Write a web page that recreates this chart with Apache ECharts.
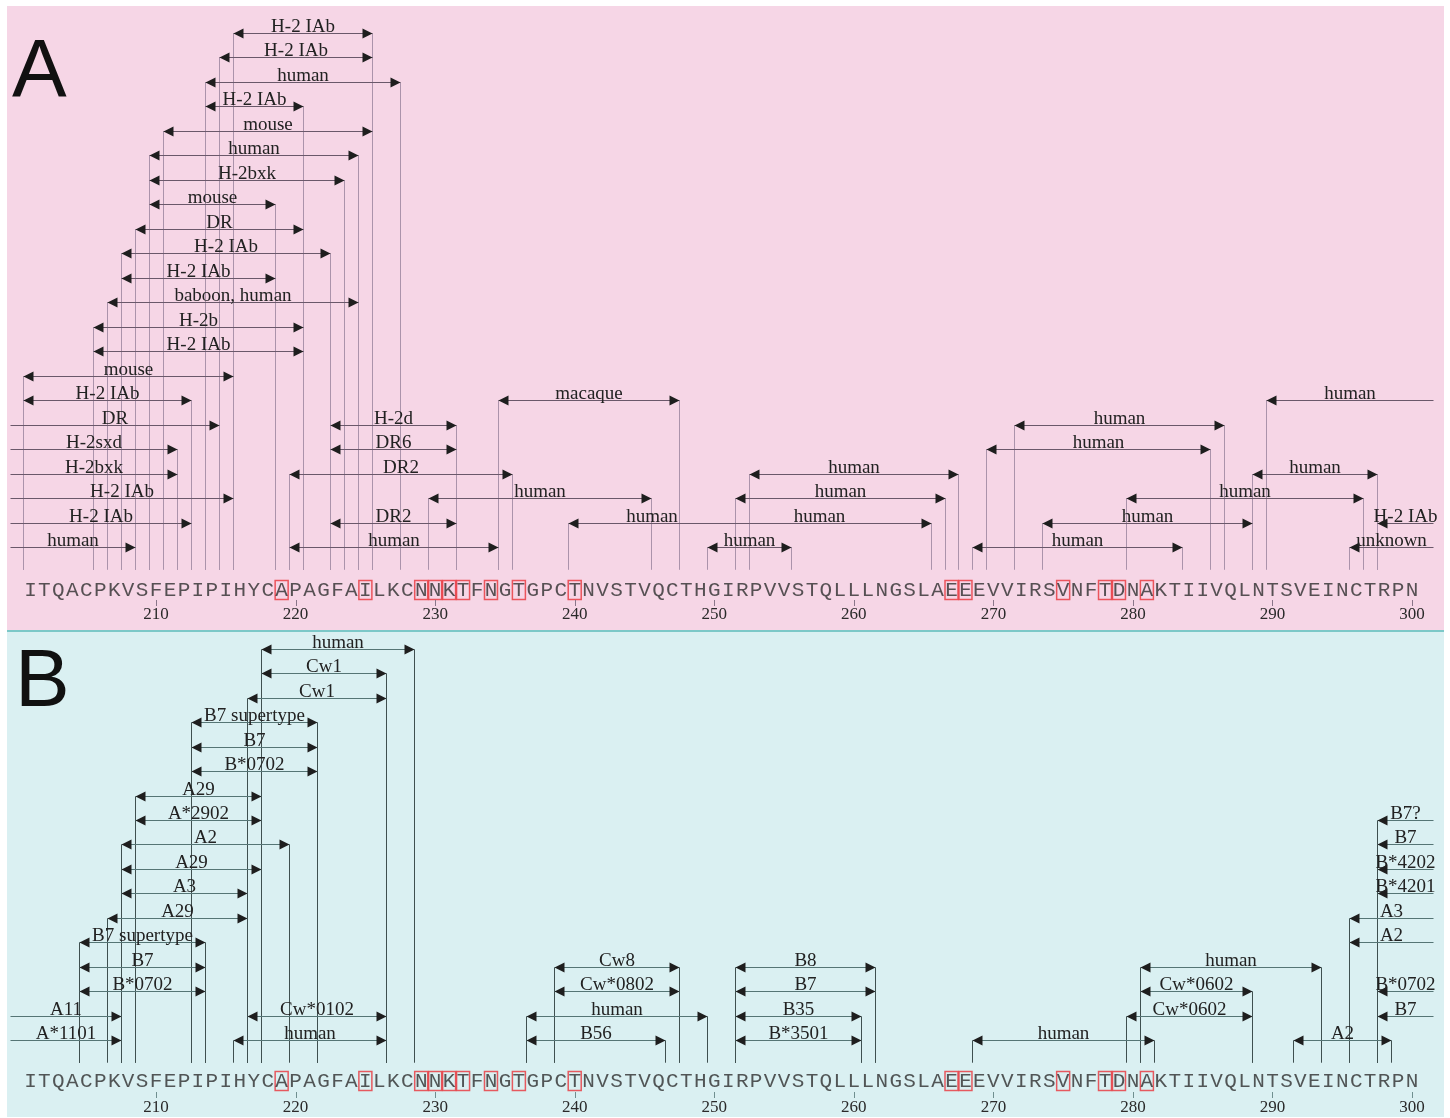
<!DOCTYPE html>
<html>
<head>
<meta charset="utf-8">
<title>Epitope map</title>
<script src="https://cdn.jsdelivr.net/npm/echarts@6.0.0/dist/echarts.min.js"></script>
<style>
html, body {margin: 0; padding: 0; background: #fff;}
#main {width: 1450px; height: 1118px;}
</style>
</head>
<body>
<div id="main"></div>
<script>
// sequence, residues 201-300
var seqStart = 201;
var seqText = 'ITQACPKVSFEPIPIHYCAPAGFAILKCNNKTFNGTGPCTNVSTVQCTHGIRPVVSTQLLLNGSLAEEEVVIRSVNFTDNAKTIIVQLNTSVEINCTRPN';
var boxedRes = [219, 225, 229, 230, 231, 232, 234, 236, 240, 267, 268, 275, 278, 279, 281];
var tickValues = [210, 220, 230, 240, 250, 260, 270, 280, 290, 300];

// [label, first residue, last residue, row (0 = lowest)]
// first 200 / last 301 = runs off the edge; 5th item 'L'/'R' = only that arrow head
var epitopesA = [
    ['H-2 IAb', 216, 225, 21],
    ['H-2 IAb', 215, 225, 20],
    ['human', 214, 227, 19],
    ['H-2 IAb', 214, 220, 18],
    ['mouse', 211, 225, 17],
    ['human', 210, 224, 16],
    ['H-2bxk', 210, 223, 15],
    ['mouse', 210, 218, 14],
    ['DR', 209, 220, 13],
    ['H-2 IAb', 208, 222, 12],
    ['H-2 IAb', 208, 218, 11],
    ['baboon, human', 207, 224, 10],
    ['H-2b', 206, 220, 9],
    ['H-2 IAb', 206, 220, 8],
    ['mouse', 201, 215, 7],
    ['H-2 IAb', 201, 212, 6],
    ['macaque', 235, 247, 6],
    ['human', 290, 301, 6],
    ['DR', 200, 214, 5],
    ['H-2d', 223, 231, 5],
    ['human', 272, 286, 5],
    ['H-2sxd', 200, 211, 4],
    ['DR6', 223, 231, 4],
    ['human', 270, 285, 4],
    ['H-2bxk', 200, 211, 3],
    ['DR2', 220, 235, 3],
    ['human', 253, 267, 3],
    ['human', 289, 297, 3],
    ['H-2 IAb', 200, 215, 2],
    ['human', 230, 245, 2],
    ['human', 252, 266, 2],
    ['human', 280, 296, 2],
    ['H-2 IAb', 200, 212, 1],
    ['DR2', 223, 231, 1],
    ['human', 240, 251, 1, 'L'],
    ['human', 250, 265, 1, 'R'],
    ['human', 274, 288, 1],
    ['H-2 IAb', 298, 301, 1],
    ['human', 200, 208, 0],
    ['human', 220, 234, 0],
    ['human', 250, 255, 0],
    ['human', 269, 283, 0],
    ['unknown', 296, 301, 0]
];

var epitopesB = [
    ['human', 218, 228, 16],
    ['Cw1', 218, 226, 15],
    ['Cw1', 217, 226, 14],
    ['B7 supertype', 213, 221, 13],
    ['B7', 213, 221, 12],
    ['B*0702', 213, 221, 11],
    ['A29', 209, 217, 10],
    ['A*2902', 209, 217, 9],
    ['B7?', 298, 301, 9],
    ['A2', 208, 219, 8],
    ['B7', 298, 301, 8],
    ['A29', 208, 217, 7],
    ['B*4202', 298, 301, 7],
    ['A3', 208, 216, 6],
    ['B*4201', 298, 301, 6],
    ['A29', 207, 216, 5],
    ['A3', 296, 301, 5],
    ['B7 supertype', 205, 213, 4],
    ['A2', 296, 301, 4],
    ['B7', 205, 213, 3],
    ['Cw8', 239, 247, 3],
    ['B8', 252, 261, 3],
    ['human', 281, 293, 3],
    ['B*0702', 205, 213, 2],
    ['Cw*0802', 239, 247, 2],
    ['B7', 252, 261, 2],
    ['Cw*0602', 281, 288, 2],
    ['B*0702', 298, 301, 2],
    ['A11', 200, 207, 1],
    ['Cw*0102', 217, 226, 1],
    ['human', 237, 249, 1],
    ['B35', 252, 260, 1],
    ['Cw*0602', 280, 288, 1],
    ['B7', 298, 301, 1],
    ['A*1101', 200, 207, 0],
    ['human', 216, 226, 0],
    ['B56', 237, 246, 0],
    ['B*3501', 252, 260, 0],
    ['human', 269, 281, 0],
    ['A2', 292, 298, 0]
];

var myChart = echarts.init(document.getElementById('main'));

function crisp(v) {
    return Math.round(v) + 0.5;
}

// 画箭头+竖线+标签
function makeRender(list, hColor, vColor) {
    return function (params, api) {
        var d = list[params.dataIndex];
        var openL = d[1] < seqStart;
        var openR = d[2] >= seqStart + seqText.length;
        var headL = !openL && d[4] !== 'R';
        var headR = !openR && d[4] !== 'L';
        var p1 = api.coord([d[1] - 0.5, d[3]]);
        var p2 = api.coord([d[2] + 0.5, d[3]]);
        var yBase = api.coord([d[1], -0.93])[1];
        var y = crisp(p1[1]);
        var x1 = crisp(p1[0]), x2 = crisp(p2[0]);
        var kids = [];
        if (headL) {
            kids.push({type: 'line', shape: {x1: x1, y1: y, x2: x1, y2: yBase}, style: {stroke: vColor, lineWidth: 1}});
        }
        if (headR) {
            kids.push({type: 'line', shape: {x1: x2, y1: y, x2: x2, y2: yBase}, style: {stroke: vColor, lineWidth: 1}});
        }
        kids.push({type: 'line', shape: {x1: x1, y1: y, x2: x2, y2: y}, style: {stroke: hColor, lineWidth: 1}});
        if (headL) {
            kids.push({type: 'polygon', shape: {points: [[x1, y], [x1 + 10, y - 5], [x1 + 10, y + 5]]}, style: {fill: '#1e1e1e'}});
        }
        if (headR) {
            kids.push({type: 'polygon', shape: {points: [[x2, y], [x2 - 10, y - 5], [x2 - 10, y + 5]]}, style: {fill: '#1e1e1e'}});
        }
        kids.push({
            type: 'text',
            x: (x1 + x2) / 2,
            y: y + 3,
            style: {
                text: d[0],
                fill: '#222',
                font: '19px "Liberation Serif"',
                align: 'center',
                verticalAlign: 'bottom',
                textAlign: 'center',
                textVerticalAlign: 'bottom'
            }
        });
        return {type: 'group', children: kids};
    };
}

// 刻度小竖线
function makeTicks(color) {
    return function (params, api) {
        var p = api.coord([api.value(0), api.value(1)]);
        var x = Math.round(p[0]);
        return {
            type: 'group',
            children: [{
                type: 'rect',
                shape: {x: x, y: Math.round(p[1]), width: 1, height: 6},
                style: {fill: color}
            }]
        };
    };
}

function tickData(row) {
    return tickValues.map(function (v) { return [v, row]; });
}

function seqData(row) {
    var arr = [];
    for (var i = 0; i < seqText.length; i++) {
        var n = seqStart + i;
        var item = {name: seqText.charAt(i), value: [n, row]};
        if (boxedRes.indexOf(n) >= 0) {
            item.label = {borderColor: '#e8333a', borderWidth: 1.5, width: 13, height: 19, lineHeight: 20, align: 'center'};
        }
        arr.push(item);
    }
    return arr;
}

function idx(list) {
    return list.map(function (d, i) { return i; });
}

function xAxisCfg(gridIndex, offset) {
    return {
        type: 'value',
        gridIndex: gridIndex,
        min: 199.32,
        max: 302.29,
        position: 'bottom',
        offset: offset,
        axisLine: {show: false},
        splitLine: {show: false},
        axisTick: {show: false},
        axisLabel: {
            customValues: tickValues,
            margin: 7,
            color: '#2a2a2a',
            fontFamily: 'Liberation Serif',
            fontSize: 17
        }
    };
}

var seqLabel = {
    show: true,
    position: 'inside',
    formatter: '{b}',
    color: '#2e2e2e',
    fontFamily: 'Liberation Mono',
    fontSize: 21
};

var option = {
    animation: false,
    grid: [
        {left: 7, top: 6, width: 1437, height: 624.5, show: true, backgroundColor: '#f6d6e6', borderWidth: 0},
        {left: 7, top: 632, width: 1437, height: 485, show: true, backgroundColor: '#daf0f2', borderWidth: 0}
    ],
    xAxis: [
        xAxisCfg(0, -31.5),
        xAxisCfg(1, -25)
    ],
    yAxis: [
        {type: 'value', gridIndex: 0, min: -3.41, max: 22.1, show: false},
        {type: 'value', gridIndex: 1, min: -3.15, max: 16.69, show: false}
    ],
    graphic: [
        {type: 'rect', shape: {x: 7, y: 630, width: 1437, height: 2}, style: {fill: '#7cc8c8'}},
        {type: 'text', left: 12, top: 32, style: {text: 'A', fill: '#111', font: '82px "Liberation Sans"'}},
        {type: 'text', left: 15, top: 642, style: {text: 'B', fill: '#111', font: '82px "Liberation Sans"'}}
    ],
    series: [
        {
            type: 'custom',
            xAxisIndex: 0,
            yAxisIndex: 0,
            renderItem: makeRender(epitopesA, '#6a586a', '#ab93ab'),
            data: idx(epitopesA)
        },
        {
            type: 'custom',
            xAxisIndex: 1,
            yAxisIndex: 1,
            renderItem: makeRender(epitopesB, '#557575', '#3f5050'),
            data: idx(epitopesB)
        },
        {
            type: 'custom',
            xAxisIndex: 0,
            yAxisIndex: 0,
            z: 5,
            renderItem: makeTicks('#8a768a'),
            data: tickData(-2.17)
        },
        {
            type: 'custom',
            xAxisIndex: 1,
            yAxisIndex: 1,
            z: 5,
            renderItem: makeTicks('#6f8f8f'),
            data: tickData(-2.13)
        },
        {
            type: 'scatter',
            xAxisIndex: 0,
            yAxisIndex: 0,
            symbolSize: 0,
            label: seqLabel,
            data: seqData(-1.76)
        },
        {
            type: 'scatter',
            xAxisIndex: 1,
            yAxisIndex: 1,
            symbolSize: 0,
            label: seqLabel,
            data: seqData(-1.68)
        }
    ]
};
myChart.setOption(option);
</script>
</body>
</html>
